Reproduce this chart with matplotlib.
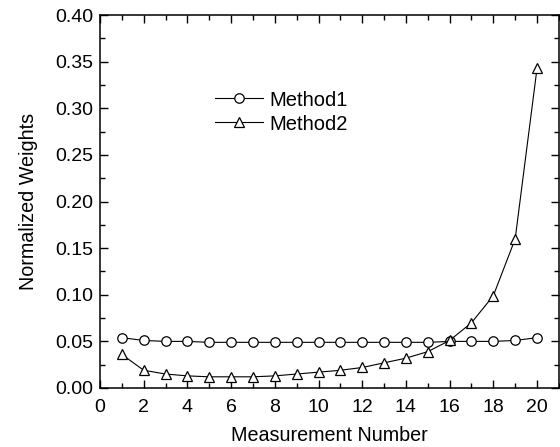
import matplotlib
matplotlib.use("Agg")
from matplotlib import pyplot as plt
from matplotlib.ticker import MultipleLocator, FormatStrFormatter

plt.rcParams['font.family'] = ['Liberation Sans', 'DejaVu Sans']

# measurement index
n = list(range(1, 21))

# normalized weights
method1 = [0.054, 0.051, 0.050, 0.050, 0.049, 0.049, 0.049, 0.049, 0.049, 0.049,
           0.049, 0.049, 0.049, 0.049, 0.049, 0.050, 0.050, 0.050, 0.051, 0.054]
method2 = [0.036, 0.019, 0.015, 0.013, 0.012, 0.012, 0.012, 0.013, 0.015, 0.017,
           0.019, 0.022, 0.027, 0.032, 0.039, 0.051, 0.070, 0.099, 0.160, 0.343]

fig = plt.figure(figsize=(5.6, 4.47), dpi=100)
ax = fig.add_axes([0.1786, 0.132, 0.8194, 0.834])

ax.plot(n, method1, color='black', lw=0.8, marker='o', ms=6.8,
        mfc='white', mec='black', mew=0.9, label='Method1')
ax.plot(n, method2, color='black', lw=0.8, marker='^', ms=7.5,
        mfc='white', mec='black', mew=0.9, label='Method2')

ax.set_xlim(0, 21)
ax.set_ylim(0, 0.40)
ax.xaxis.set_major_locator(MultipleLocator(2))
ax.xaxis.set_minor_locator(MultipleLocator(1))
ax.yaxis.set_major_locator(MultipleLocator(0.05))
ax.yaxis.set_minor_locator(MultipleLocator(0.025))
ax.yaxis.set_major_formatter(FormatStrFormatter('%.2f'))

ax.tick_params(which='both', direction='in', top=True, right=True,
               labelsize=14, width=1)
ax.tick_params(which='major', length=6)
ax.tick_params(which='minor', length=3.5)
ax.tick_params(axis='x', which='major', pad=8)
ax.tick_params(axis='y', which='major', pad=5)
for s in ax.spines.values():
    s.set_linewidth(1.1)

ax.set_xlabel('Measurement Number', fontsize=14.2, labelpad=7)
ax.set_ylabel('Normalized Weights', fontsize=14.2, labelpad=12)

ax.legend(loc='upper left', bbox_to_anchor=(0.251, 0.798), frameon=False,
          fontsize=14.5, handlelength=2.35, handletextpad=0.35,
          labelspacing=0.25, borderaxespad=0, borderpad=0)

fig.savefig('out.png', dpi=100)
